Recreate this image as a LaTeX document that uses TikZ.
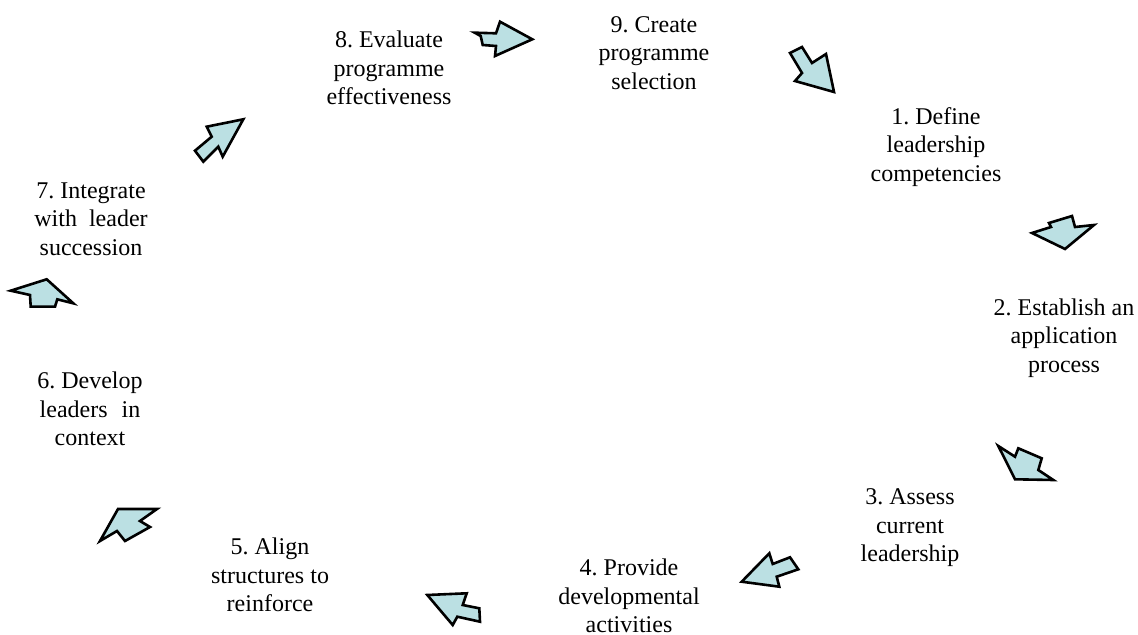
\documentclass[tikz,border=0pt]{standalone}
\usepackage{fontspec}
\setmainfont{Liberation Serif}
\definecolor{arrowfill}{RGB}{187,224,227}
\tikzset{
  blk/.style={draw=black, fill=arrowfill, line width=1.3pt, line join=miter},
  lbl/.style={align=center, font=\fontsize{12}{14.25}\selectfont\frenchspacing, inner sep=0pt}
}
\begin{document}
\begin{tikzpicture}[x=0.5pt,y=-0.5pt]
\useasboundingbox (0,0) rectangle (1138,635);
% labels
\node[lbl] (s9) at (654,53) {9. Create\\programme\\selection};
\node[lbl] (s8) at (389,68) {8. Evaluate\\programme\\effectiveness};
\node[lbl] (s1) at (936,147) {1. Define\\leadership\\competencies};
\node[lbl] (s2) at (1064,338) {2. Establish an\\application\\process};
\node[lbl] (s3) at (910,528) {3. Assess\\current\\leadership};
\node[lbl] (s4) at (629,596) {4. Provide\\developmental\\activities};
\node[lbl] (s5) at (270,575) {5. Align\\structures to\\reinforce};
\node[lbl] (s6) at (90,409) {6. Develop\\leaders\hspace{7pt}in\\context};
\node[lbl] (s7) at (91,219) {7. Integrate\\with\hspace{6pt}leader\\succession};
% arrows
% 8 -> 9
\draw[blk] (474.7,32.7) -- (496,33.3) -- (500,21.7) -- (532.3,39.3) -- (495,56) -- (496,46) -- (482.7,45) -- (480.7,36) -- cycle;
% 9 -> 1
\draw[blk] (790,53) -- (802,73) -- (795,81) -- (834,92) -- (826,54) -- (812,63) -- (802,47) -- cycle;
% 1 -> 2
\draw[blk] (1072,216) -- (1049,223) -- (1051,227) -- (1032,233) -- (1065,249) -- (1094,225) -- (1075,227) -- cycle;
% 2 -> 3
\draw[blk] (998.3,446) -- (1015,456.7) -- (1018.3,448.3) -- (1041.7,458.3) -- (1038.3,470) -- (1053.3,480) -- (1015,479.3) -- cycle;
% 3 -> 4
\draw[blk] (769.3,553.3) -- (772.7,564) -- (790,557.3) -- (798.3,569.3) -- (776.7,576.7) -- (779.3,586.7) -- (741.7,581.7) -- cycle;
% 4 -> 5
\draw[blk] (427.3,595) -- (466.7,593.3) -- (462.7,605) -- (479.3,608.3) -- (480,621.7) -- (457.3,616.7) -- (452.7,625) -- cycle;
% 5 -> 6
\draw[blk] (118,509) -- (157,509) -- (140,521) -- (150,527) -- (125,541) -- (117,531) -- (100,541) -- cycle;
% 6 -> 7
\draw[blk] (10.7,290.7) -- (46.7,279.3) -- (73.3,303.3) -- (57.3,299.3) -- (55,306.7) -- (30.7,306.7) -- (30,295) -- cycle;
% 7 -> 8
\draw[blk] (243.3,119.3) -- (222.7,156.7) -- (218.3,146.7) -- (203.3,161.7) -- (195,150.7) -- (211.7,136.7) -- (206.7,126.7) -- cycle;
\end{tikzpicture}
\end{document}
